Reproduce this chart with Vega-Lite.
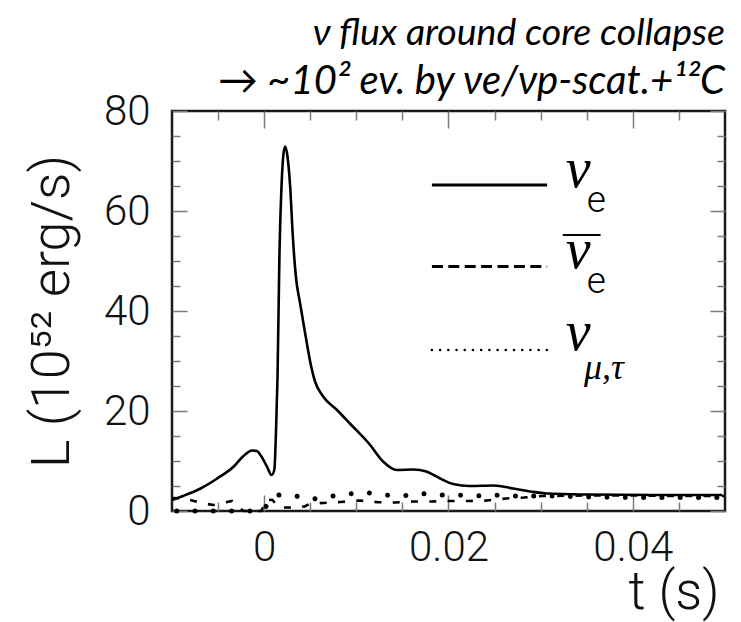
{
  "$schema": "https://vega.github.io/schema/vega-lite/v6.json",
  "width": 553,
  "height": 400,
  "autosize": {"type": "none"},
  "padding": {"left": 172, "top": 111, "right": 16, "bottom": 111},
  "background": "white",
  "config": {
    "view": {"stroke": "#1a1a1a", "strokeWidth": 2.5},
    "axis": {
      "domain": false, "grid": false,
      "tickColor": "#7a7a7a", "tickWidth": 1.5,
      "labelFont": "Roboto", "labelFontWeight": 300, "labelFontSize": 42, "labelColor": "#111",
      "titleFont": "Roboto", "titleFontWeight": 300, "titleFontSize": 54, "titleColor": "#111"
    }
  },
  "title": {
    "text": "ν flux around core collapse",
    "subtitle": "→\u00a0~10² ev. by νe/νp-scat.+¹²C",
    "anchor": "end", "frame": "group",
    "font": "Lato", "fontStyle": "italic", "fontWeight": "normal", "fontSize": 37.5, "color": "#000",
    "subtitleFont": "Lato", "subtitleFontStyle": "italic", "subtitleFontWeight": "normal", "subtitleFontSize": 40, "subtitleColor": "#000",
    "subtitlePadding": 10,
    "offset": 6, "dx": 0, "dy": 18
  },
  "datasets": {
    "nue": [
      {"t": -0.0100, "L": 2.2}, {"t": -0.0088, "L": 3.0}, {"t": -0.0069, "L": 4.5},
      {"t": -0.0051, "L": 6.5}, {"t": -0.0033, "L": 8.9}, {"t": -0.0023, "L": 10.9},
      {"t": -0.0013, "L": 12.1}, {"t": -0.0008, "L": 12.0}, {"t": -0.0003, "L": 10.9},
      {"t": 0.0003, "L": 8.9}, {"t": 0.0008, "L": 7.2}, {"t": 0.0011, "L": 8.2},
      {"t": 0.0013, "L": 16.9}, {"t": 0.00145, "L": 26.9}, {"t": 0.00166, "L": 51.5},
      {"t": 0.00184, "L": 62.9}, {"t": 0.0021, "L": 71.5}, {"t": 0.00228, "L": 72.9},
      {"t": 0.00253, "L": 70.9}, {"t": 0.00282, "L": 64.9}, {"t": 0.00311, "L": 54.9},
      {"t": 0.00344, "L": 46.9}, {"t": 0.0039, "L": 41.5}, {"t": 0.00445, "L": 35.5},
      {"t": 0.0051, "L": 28.9}, {"t": 0.0055, "L": 26.0}, {"t": 0.0064, "L": 22.9},
      {"t": 0.0079, "L": 20.2}, {"t": 0.0093, "L": 17.5}, {"t": 0.0115, "L": 13.2},
      {"t": 0.0129, "L": 9.9}, {"t": 0.0144, "L": 8.2}, {"t": 0.0162, "L": 8.3},
      {"t": 0.0176, "L": 7.9}, {"t": 0.0184, "L": 7.2}, {"t": 0.0191, "L": 6.5},
      {"t": 0.0205, "L": 5.4}, {"t": 0.0223, "L": 5.0}, {"t": 0.0249, "L": 5.1},
      {"t": 0.0270, "L": 4.5}, {"t": 0.0289, "L": 3.9}, {"t": 0.0307, "L": 3.5},
      {"t": 0.0350, "L": 3.3}, {"t": 0.0422, "L": 3.2}, {"t": 0.0497, "L": 3.2}
    ],
    "anue": [
      {"t": -0.0100, "L": 2.6}, {"t": -0.0087, "L": 2.5}, {"t": -0.0065, "L": 1.5},
      {"t": -0.0055, "L": 1.2}, {"t": -0.0045, "L": 1.6}, {"t": -0.0035, "L": 2.0},
      {"t": -0.0027, "L": 0.5}, {"t": -0.0022, "L": 0}, {"t": -0.0003, "L": 0},
      {"t": 0.0002, "L": 2.3}, {"t": 0.0009, "L": 2.2}, {"t": 0.0016, "L": 0.7},
      {"t": 0.0028, "L": 0.7}, {"t": 0.0044, "L": 0.9}, {"t": 0.0050, "L": 1.5},
      {"t": 0.0064, "L": 1.6}, {"t": 0.0083, "L": 1.8}, {"t": 0.0103, "L": 2.1},
      {"t": 0.0124, "L": 1.75}, {"t": 0.0142, "L": 1.7}, {"t": 0.0162, "L": 1.9},
      {"t": 0.0182, "L": 1.9}, {"t": 0.0202, "L": 2.0}, {"t": 0.0222, "L": 2.0},
      {"t": 0.0242, "L": 2.1}, {"t": 0.0262, "L": 2.5}, {"t": 0.0282, "L": 2.7},
      {"t": 0.0302, "L": 3.0}, {"t": 0.0350, "L": 3.1}, {"t": 0.0400, "L": 3.1},
      {"t": 0.0450, "L": 3.0}, {"t": 0.0500, "L": 3.0}
    ],
    "numu": [
      {"t": -0.0100, "L": 0}, {"t": -0.0002, "L": 0}, {"t": 0.0012, "L": 3.2},
      {"t": 0.0030, "L": 3.2}, {"t": 0.0050, "L": 2.3}, {"t": 0.0070, "L": 2.9},
      {"t": 0.0090, "L": 3.4}, {"t": 0.0110, "L": 3.7}, {"t": 0.0130, "L": 3.2},
      {"t": 0.0150, "L": 3.0}, {"t": 0.0170, "L": 3.5}, {"t": 0.0190, "L": 3.2},
      {"t": 0.0210, "L": 3.2}, {"t": 0.0230, "L": 3.0}, {"t": 0.0250, "L": 3.2},
      {"t": 0.0270, "L": 3.0}, {"t": 0.0290, "L": 3.0}, {"t": 0.0310, "L": 3.0},
      {"t": 0.0350, "L": 2.8}, {"t": 0.0400, "L": 2.7}, {"t": 0.0450, "L": 2.7},
      {"t": 0.0500, "L": 2.7}
    ],
    "legend": [{"series": "entry"}]
  },
  "layer": [
    {
      "data": {"name": "nue"},
      "mark": {"type": "line", "color": "#000", "strokeWidth": 2.6, "interpolate": "monotone"},
      "encoding": {
        "x": {"field": "t", "type": "quantitative",
          "scale": {"domain": [-0.01, 0.05], "nice": false, "zero": false},
          "axis": {"orient": "bottom", "values": [0, 0.02, 0.04], "format": "~g", "ticks": false,
            "labelPadding": 49, "labelBaseline": "alphabetic", "labelFlush": false, "labelOverlap": false,
            "title": "t (s)", "titleAnchor": "end", "titleAlign": "right", "titleX": 547, "titleY": 97,
            "titleFontSize": 53, "titleBaseline": "alphabetic"}},
        "y": {"field": "L", "type": "quantitative",
          "scale": {"domain": [0, 80], "nice": false},
          "axis": {"orient": "left", "values": [0, 20, 40, 60, 80], "format": "d", "ticks": false,
            "labelPadding": 22, "labelFlush": false, "labelOverlap": false,
            "title": "L (10⁵² erg/s)", "titleX": -104, "titleBaseline": "alphabetic"}}
      }
    },
    {
      "data": {"name": "anue"},
      "mark": {"type": "line", "color": "#000", "strokeWidth": 2.6, "strokeDash": [7, 11.3]},
      "encoding": {
        "x": {"field": "t", "type": "quantitative",
          "axis": {"orient": "bottom", "values": [0, 0.02, 0.04], "labels": false, "tickSize": -16, "title": null}},
        "y": {"field": "L", "type": "quantitative",
          "axis": {"orient": "left", "values": [0, 20, 40, 60, 80], "labels": false, "tickSize": -15, "title": null}}
      }
    },
    {
      "data": {"name": "numu"},
      "mark": {"type": "line", "color": "#000", "strokeWidth": 5, "strokeDash": [0.01, 18.3], "strokeDashOffset": 13.6, "strokeCap": "round"},
      "encoding": {
        "x": {"field": "t", "type": "quantitative",
          "axis": {"orient": "bottom", "values": [-0.005, 0.005, 0.01, 0.015, 0.025, 0.03, 0.035, 0.045], "labels": false, "tickSize": -9, "title": null}},
        "y": {"field": "L", "type": "quantitative",
          "axis": {"orient": "left", "values": [5, 10, 15, 25, 30, 35, 45, 50, 55, 65, 70, 75], "labels": false, "tickSize": -8, "title": null}}
      }
    },
    {
      "data": {"name": "legend"},
      "mark": {"type": "rule", "color": "#000", "strokeWidth": 2.8},
      "encoding": {
        "x": {"datum": 0.0182, "type": "quantitative",
          "axis": {"orient": "top", "values": [0, 0.02, 0.04], "labels": false, "tickSize": -17, "title": null}},
        "x2": {"datum": 0.0307},
        "y": {"datum": 65.2, "type": "quantitative",
          "axis": {"orient": "right", "values": [0, 20, 40, 60, 80], "labels": false, "tickSize": -15, "title": null}}
      }
    },
    {
      "data": {"name": "legend"},
      "mark": {"type": "rule", "color": "#000", "strokeWidth": 3, "strokeDash": [11, 5.4]},
      "encoding": {
        "x": {"datum": 0.0182, "type": "quantitative",
          "axis": {"orient": "top", "values": [-0.005, 0.005, 0.01, 0.015, 0.025, 0.03, 0.035, 0.045], "labels": false, "tickSize": -9, "title": null}},
        "x2": {"datum": 0.0307},
        "y": {"datum": 48.9, "type": "quantitative",
          "axis": {"orient": "right", "values": [5, 10, 15, 25, 30, 35, 45, 50, 55, 65, 70, 75], "labels": false, "tickSize": -8, "title": null}}
      }
    },
    {
      "data": {"name": "legend"},
      "mark": {"type": "rule", "color": "#000", "strokeWidth": 2.6, "strokeDash": [0.01, 8.2], "strokeCap": "round"},
      "encoding": {
        "x": {"datum": 0.0182, "type": "quantitative", "axis": null},
        "x2": {"datum": 0.0307},
        "y": {"datum": 32.2, "type": "quantitative", "axis": null}
      }
    },
    {
      "data": {"name": "legend"},
      "mark": {"type": "rule", "color": "#000", "strokeWidth": 2},
      "encoding": {
        "x": {"datum": 0.0324, "type": "quantitative", "axis": null},
        "x2": {"datum": 0.0365},
        "y": {"datum": 55.2, "type": "quantitative", "axis": null}
      }
    },
    {
      "data": {"name": "legend"},
      "mark": {"type": "text", "text": "ν", "font": "Liberation Serif", "fontStyle": "italic", "fontSize": 56, "align": "center", "baseline": "alphabetic", "color": "#000"},
      "encoding": {
        "x": {"datum": 0.03406, "type": "quantitative", "axis": null},
        "y": {"datum": 64.8, "type": "quantitative", "axis": null}
      }
    },
    {
      "data": {"name": "legend"},
      "mark": {"type": "text", "text": "e", "font": "Roboto", "fontWeight": 300, "fontSize": 37, "align": "left", "baseline": "alphabetic", "color": "#000"},
      "encoding": {
        "x": {"datum": 0.0350, "type": "quantitative", "axis": null},
        "y": {"datum": 59.8, "type": "quantitative", "axis": null}
      }
    },
    {
      "data": {"name": "legend"},
      "mark": {"type": "text", "text": "ν", "font": "Liberation Serif", "fontStyle": "italic", "fontSize": 56, "align": "center", "baseline": "alphabetic", "color": "#000"},
      "encoding": {
        "x": {"datum": 0.03406, "type": "quantitative", "axis": null},
        "y": {"datum": 48.6, "type": "quantitative", "axis": null}
      }
    },
    {
      "data": {"name": "legend"},
      "mark": {"type": "text", "text": "e", "font": "Roboto", "fontWeight": 300, "fontSize": 37, "align": "left", "baseline": "alphabetic", "color": "#000"},
      "encoding": {
        "x": {"datum": 0.0350, "type": "quantitative", "axis": null},
        "y": {"datum": 43.6, "type": "quantitative", "axis": null}
      }
    },
    {
      "data": {"name": "legend"},
      "mark": {"type": "text", "text": "ν", "font": "Liberation Serif", "fontStyle": "italic", "fontSize": 56, "align": "center", "baseline": "alphabetic", "color": "#000"},
      "encoding": {
        "x": {"datum": 0.03406, "type": "quantitative", "axis": null},
        "y": {"datum": 32.2, "type": "quantitative", "axis": null}
      }
    },
    {
      "data": {"name": "legend"},
      "mark": {"type": "text", "text": "μ,τ", "font": "Liberation Serif", "fontStyle": "italic", "fontSize": 36, "align": "left", "baseline": "alphabetic", "color": "#000"},
      "encoding": {
        "x": {"datum": 0.0347, "type": "quantitative", "axis": null},
        "y": {"datum": 26.4, "type": "quantitative", "axis": null}
      }
    }
  ],
  "resolve": {"axis": {"x": "independent", "y": "independent"}}
}
